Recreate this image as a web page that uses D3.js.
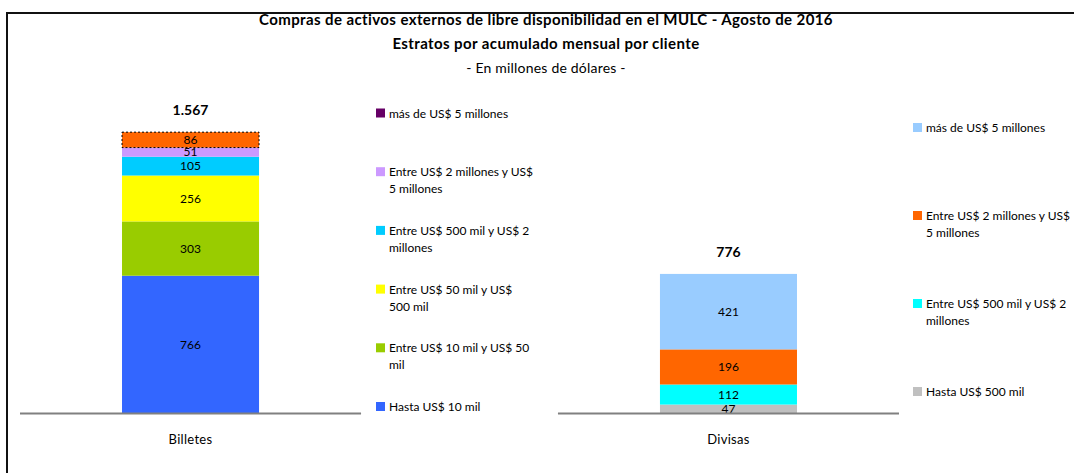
<!DOCTYPE html>
<html>
<head>
<meta charset="utf-8">
<script src="https://cdn.jsdelivr.net/npm/d3@7"></script>
<style>
  body { margin: 0; background: #fff; }
  svg { font-family: Lato, "Open Sans", sans-serif; }
</style>
</head>
<body>
<div id="chart"></div>
<script>
// chart data
const categories = ["Billetes", "Divisas"];

const billetesSeries = ["Hasta US$ 10 mil", "Entre US$ 10 mil y US$ 50 mil", "Entre US$ 50 mil y US$ 500 mil",
    "Entre US$ 500 mil y US$ 2 millones", "Entre US$ 2 millones y US$ 5 millones", "más de US$ 5 millones"];
const billetesValues = [766, 303, 256, 105, 51, 86];
const billetesColors = ["#3366ff", "#99cc00", "#ffff00", "#00ccff", "#cc99ff", "#ff6600"];
// legend swatch for the top series differs from its bar fill
const billetesLegendColors = ["#3366ff", "#99cc00", "#ffff00", "#00ccff", "#cc99ff", "#660066"];
const billetesLegendLines = [["Hasta US$ 10 mil"], ["Entre US$ 10 mil y US$ 50", "mil"], ["Entre US$ 50 mil y US$", "500 mil"],
    ["Entre US$ 500 mil y US$ 2", "millones"], ["Entre US$ 2 millones y US$", "5 millones"], ["más de US$ 5 millones"]];

const divisasSeries = ["Hasta US$ 500 mil", "Entre US$ 500 mil y US$ 2 millones", "Entre US$ 2 millones y US$ 5 millones", "más de US$ 5 millones"];
const divisasValues = [47, 112, 196, 421];
const divisasColors = ["#c0c0c0", "#00ffff", "#ff6600", "#99ccff"];
const divisasLegendLines = [["Hasta US$ 500 mil"], ["Entre US$ 500 mil y US$ 2", "millones"],
    ["Entre US$ 2 millones y US$", "5 millones"], ["más de US$ 5 millones"]];

const titleLines = ["Compras de activos externos de libre disponibilidad en el MULC - Agosto de 2016",
    "Estratos por acumulado mensual por cliente", "- En millones de dólares -"];

const fmt = d3.formatLocale({decimal: ",", thousands: ".", grouping: [3], currency: ["$", ""]}).format(",d");

const svg = d3.select("#chart")
    .append("svg")
    .attr("width", 1074)
    .attr("height", 473);

// frame lines (top and left)
svg.append("line").attr("x1", 7).attr("x2", 1074).attr("y1", 13).attr("y2", 13)
    .style("stroke", "#111").style("stroke-width", 2);
svg.append("line").attr("x1", 7).attr("x2", 7).attr("y1", 12).attr("y2", 473)
    .style("stroke", "#111").style("stroke-width", 2);

// titles
svg.selectAll(".title")
    .data(titleLines)
    .enter()
    .append("text")
    .attr("class", "title")
    .attr("x", 546)
    .attr("y", (d, i) => 25 + i * 24)
    .style("text-anchor", "middle")
    .style("font-size", (d, i) => i < 2 ? "15px" : "14px")
    .style("letter-spacing", (d, i) => i < 2 ? "0.4px" : "0.2px")
    .style("font-weight", (d, i) => i < 2 ? "bold" : "normal")
    .text(d => d);

const x = d3.scaleBand()
    .domain(categories)
    .range([20, 899])
    .paddingInner(0.366);

const y = d3.scaleLinear()
    .domain([0, 1800])
    .range([413, 90.4]);

const barW = x.bandwidth() * 137 / 341;

function drawBar(cat, values, colors) {
    const cx = x(cat) + x.bandwidth() / 2;
    const ends = d3.cumsum(values);
    const segs = values.map((v, i) => ({v, y0: ends[i] - v, y1: ends[i], c: colors[i], i}));
    const g = svg.append("g");

    g.selectAll("rect")
        .data(segs)
        .enter()
        .append("rect")
        .attr("x", cx - barW / 2)
        .attr("width", barW)
        .attr("y", d => y(d.y1))
        .attr("height", d => y(d.y0) - y(d.y1))
        .style("fill", d => d.c);

    g.selectAll(".val")
        .data(segs)
        .enter()
        .append("text")
        .attr("class", "val")
        .attr("x", cx)
        .attr("y", d => (y(d.y0) + y(d.y1)) / 2)
        .attr("dy", "0.35em")
        .style("text-anchor", "middle")
        .style("font-size", "12px")
        .text(d => fmt(d.v));

    // total on top
    svg.append("text")
        .attr("x", cx)
        .attr("y", y(d3.sum(values)) - 17)
        .style("text-anchor", "middle")
        .style("font-size", "14px")
        .style("font-weight", "bold")
        .text(fmt(d3.sum(values)));

    // baseline for this category
    svg.append("line")
        .attr("x1", x(cat)).attr("x2", x(cat) + x.bandwidth())
        .attr("y1", y(0) + 0.5).attr("y2", y(0) + 0.5)
        .style("stroke", "#808080").style("stroke-width", 2);

    svg.append("text")
        .attr("x", cx)
        .attr("y", 444)
        .style("text-anchor", "middle")
        .style("font-size", "13px")
        .style("letter-spacing", "0.3px")
        .text(cat);
    return segs;
}

const bSegs = drawBar("Billetes", billetesValues, billetesColors);
drawBar("Divisas", divisasValues, divisasColors);

// dotted outline around the top Billetes segment
const topSeg = bSegs[bSegs.length - 1];
svg.append("rect")
    .attr("x", x("Billetes") + x.bandwidth() / 2 - barW / 2)
    .attr("y", y(topSeg.y1))
    .attr("width", barW)
    .attr("height", y(topSeg.y0) - y(topSeg.y1))
    .style("fill", "none")
    .style("stroke", "#000")
    .style("stroke-width", 1)
    .style("stroke-dasharray", "2,2");

function drawLegend(lines, colors, lx, yBottom, step) {
    const g = svg.append("g");
    lines.forEach((ls, i) => {
        const ly = yBottom - i * step;
        g.append("rect")
            .attr("x", lx)
            .attr("y", ly - 9)
            .attr("width", 9)
            .attr("height", 9)
            .style("fill", colors[i]);
        ls.forEach((t, j) => {
            g.append("text")
                .attr("x", lx + 13)
                .attr("y", ly + j * 17)
                .style("font-size", "12px")
                .text(t);
        });
    });
}

drawLegend(billetesLegendLines, billetesLegendColors, 376, 411, 58.7);
drawLegend(divisasLegendLines, divisasColors, 913, 396, 88);
</script>
</body>
</html>
